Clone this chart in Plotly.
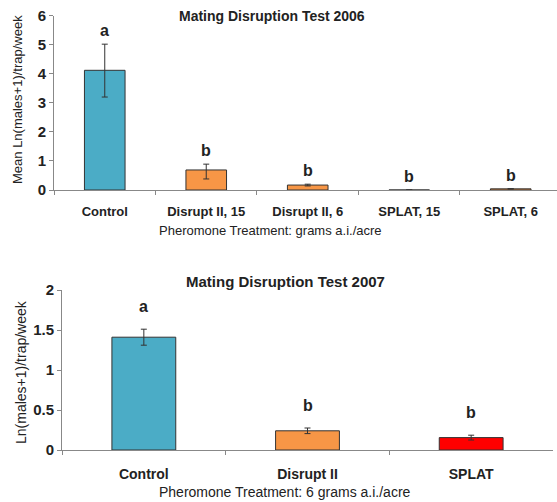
import plotly.graph_objects as go

# ---- data ----
cats_2006 = ["Control", "Disrupt II, 15", "Disrupt II, 6", "SPLAT, 15", "SPLAT, 6"]
mean_2006 = [4.12, 0.69, 0.17, 0.0, 0.04]
err_up_2006 = [0.90, 0.20, 0.03, 0.0, 0.0]
err_dn_2006 = [0.92, 0.31, 0.03, 0.0, 0.0]
letters_2006 = ["a", "b", "b", "b", "b"]
colors_2006 = ["#4BACC6", "#F79646", "#F79646", "#F79646", "#F79646"]

cats_2007 = ["Control", "Disrupt II", "SPLAT"]
mean_2007 = [1.41, 0.24, 0.155]
err_2007 = [0.10, 0.035, 0.03]
letters_2007 = ["a", "b", "b"]
colors_2007 = ["#4BACC6", "#F79646", "#FF0000"]

W, H = 557, 502
FONT = "Liberation Sans, Arial, sans-serif"

def px_x(p):
    return p / W

def px_y(p):
    return 1 - p / H

fig = go.Figure()

fig.add_trace(go.Bar(
    x=cats_2006, y=mean_2006, marker=dict(color=colors_2006, line=dict(color="#333333", width=1)),
    width=0.4,
    error_y=dict(type="data", symmetric=False, array=err_up_2006, arrayminus=err_dn_2006,
                 color="#333333", thickness=1, width=3),
    xaxis="x", yaxis="y", showlegend=False))

fig.add_trace(go.Bar(
    x=cats_2007, y=mean_2007, marker=dict(color=colors_2007, line=dict(color="#333333", width=1)),
    width=0.39,
    error_y=dict(type="data", array=err_2007, color="#333333", thickness=1, width=3),
    xaxis="x2", yaxis="y2", showlegend=False))

axis_common = dict(showgrid=False, zeroline=False, showline=True, linecolor="#888888", linewidth=1,
                   ticks="outside", ticklen=4, tickcolor="#888888", automargin=False,
                   tickfont=dict(family=FONT, size=13, color="#222222", weight="bold"))

fig.update_layout(
    width=W, height=H,
    margin=dict(l=0, r=0, t=0, b=0),
    paper_bgcolor="white", plot_bgcolor="white",
    xaxis=dict(axis_common, domain=[px_x(54), 1.0], range=[-0.5, 4.456],
               tickson="boundaries", anchor="y", ticklabelstandoff=9,
               tickfont=dict(family=FONT, size=13, color="#222222", weight="bold")),
    yaxis=dict(axis_common, domain=[px_y(190), px_y(15.7)], range=[0, 6], dtick=1, anchor="x",
               tickfont=dict(family=FONT, size=15, color="#222222", weight="bold")),
    xaxis2=dict(axis_common, domain=[px_x(62), px_x(553)], range=[-0.5, 2.5],
                tickson="boundaries", anchor="y2", ticklabelstandoff=11,
                tickfont=dict(family=FONT, size=14, color="#222222", weight="bold")),
    yaxis2=dict(axis_common, domain=[px_y(450), px_y(290)], range=[0, 2], dtick=0.5, anchor="x2",
                tickfont=dict(family=FONT, size=15, color="#222222", weight="bold")),
)

annotations = []
for c, m, e, t in zip(cats_2006, mean_2006, err_up_2006, letters_2006):
    annotations.append(dict(x=c, y=m + e, xref="x", yref="y", text=f"<b>{t}</b>", showarrow=False,
                            xanchor="center", yanchor="bottom", yshift=3,
                            font=dict(family=FONT, size=16, color="#222222")))
for c, m, e, t in zip(cats_2007, mean_2007, err_2007, letters_2007):
    annotations.append(dict(x=c, y=m + e, xref="x2", yref="y2", text=f"<b>{t}</b>", showarrow=False,
                            xanchor="center", yanchor="bottom", yshift=12,
                            font=dict(family=FONT, size=16, color="#222222")))

def paper_text(text, x, y, size, angle=0):
    return dict(text=text, x=px_x(x), y=px_y(y), xref="paper", yref="paper", showarrow=False,
                xanchor="center", yanchor="middle", textangle=angle,
                font=dict(family=FONT, size=size, color="#222222"))

annotations += [
    paper_text("<b>Mating Disruption Test 2006</b>", 272, 16, 14),
    paper_text("Mean Ln(males+1)/trap/week", 17, 100, 13, -90),
    paper_text("Pheromone Treatment: grams a.i./acre", 270, 230, 13),
    paper_text("<b>Mating Disruption Test 2007</b>", 285, 281, 15),
    paper_text("Ln(males+1)/trap/week", 21, 372, 14, -90),
    paper_text("Pheromone Treatment: 6 grams a.i./acre", 285, 492, 14),
]
fig.update_layout(annotations=annotations)

fig.write_html("out.html", config={"displayModeBar": False},
               post_script="document.body.style.margin='0';document.body.style.overflow='hidden';")
